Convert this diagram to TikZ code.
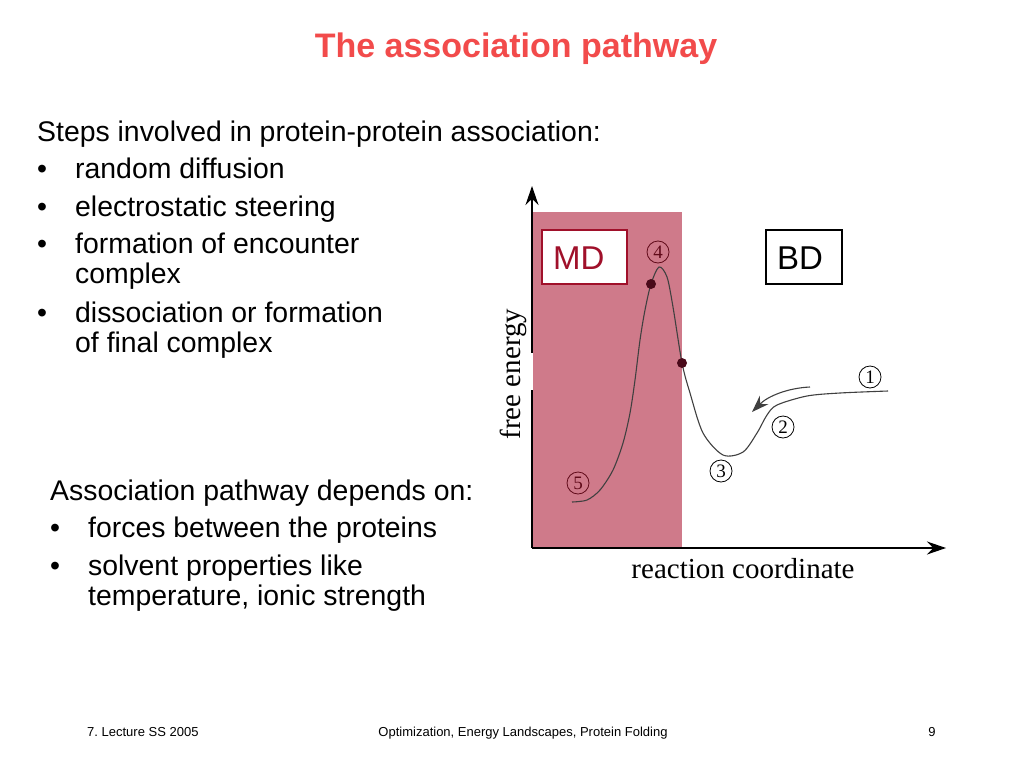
\documentclass[tikz,border=0pt]{standalone}
\usepackage{fontspec}
\setmainfont{Liberation Sans}
\newfontfamily\seriffont{Liberation Serif}
\usetikzlibrary{arrows.meta}
\definecolor{titlered}{HTML}{F24B4B}
\definecolor{mdpink}{HTML}{CF7A8A}
\definecolor{mdred}{HTML}{A0102A}
\definecolor{dotred}{HTML}{4A0A1A}
\definecolor{curvegray}{HTML}{404040}
\frenchspacing
\tikzset{
  txt/.style={anchor=base west, inner sep=0pt, font=\fontsize{28.4}{34}\selectfont},
  bul/.style={anchor=base west, inner sep=0pt, font=\fontsize{28.4}{34}\selectfont},
  foot/.style={anchor=base, inner sep=0pt, font=\fontsize{13}{16}\selectfont},
  circnum/.style={circle, draw=#1, text=#1, line width=0.8pt, inner sep=0pt, minimum size=22pt, font=\seriffont\fontsize{19}{19}\selectfont},
  circnum/.default=black,
  labbox/.style={draw=#1, fill=white, line width=1.8pt, inner sep=0pt},
  labtxt/.style={text=#1, anchor=base west, inner sep=0pt, font=\fontsize{33}{33}\selectfont},
  axisline/.style={line width=1.3pt, -{Stealth[length=19pt,width=13pt]}},
  dotmark/.style={circle, fill=dotred, inner sep=0pt, minimum size=10pt}
}
\begin{document}
\begin{tikzpicture}[x=1pt,y=-1pt]
\useasboundingbox (0,0) rectangle (1024,768);
\fill[white] (0,0) rectangle (1024,768);
% title
\node[anchor=base, inner sep=0pt, text=titlered, font=\bfseries\fontsize{34}{40}\selectfont] (title) at (516,58) {The association pathway};
% upper text block
\node[txt] (s0) at (37,141) {Steps involved in protein-protein association:};
\node[bul] (b1) at (37,178) {\textbullet};
\node[txt] (s1) at (75,178) {random diffusion};
\node[bul] (b2) at (37,216) {\textbullet};
\node[txt] (s2) at (75,216) {electrostatic steering};
\node[bul] (b3) at (37,253) {\textbullet};
\node[txt] (s3) at (75,253) {formation of encounter};
\node[txt] (s3b) at (75,283) {complex};
\node[bul] (b4) at (37,322) {\textbullet};
\node[txt] (s4) at (75,322) {dissociation or formation};
\node[txt] (s4b) at (75,352) {of final complex};
% lower text block
\node[txt] (t0) at (50,500) {Association pathway depends on:};
\node[bul] (c1) at (50,537) {\textbullet};
\node[txt] (t1) at (88,537) {forces between the proteins};
\node[bul] (c2) at (50,575) {\textbullet};
\node[txt] (t2) at (88,575) {solvent properties like};
\node[txt] (t2b) at (88,605) {temperature, ionic strength};
% graph
\fill[mdpink] (532,212) rectangle (682,548);
\coordinate (origin) at (532,548);
\coordinate (ytop) at (532,186);
\coordinate (xend) at (946,548);
\draw[axisline] (origin) -- (ytop);
\draw[axisline] (origin) -- (xend);
\draw[white, line width=1.5pt] (532,353) -- (532,390);
% energy curve
\draw[curvegray, line width=1.1pt] plot[smooth, tension=0.5] coordinates {
 (572,502) (587,500) (600,490) (613,470) (623,443) (630,413) (635,380) (640,340)
 (645,310) (651,284) (659,267) (667,277) (673,307) (682,363) (690,393) (703,433)
 (723,455) (743,452) (757,433) (767,415) (777,405) (807,396) (840,393) (888,391)};
\node[dotmark] (d1) at (651,284) {};
\node[dotmark] (d2) at (682,363) {};
% steering arrow
\coordinate (arrS) at (810,387);
\coordinate (arrE) at (752,412);
\draw[curvegray, line width=1.1pt, -{Stealth[length=17pt,width=12pt]}] (arrS) .. controls (788,388) and (768,396) .. (arrE);
% circled numbers
\node[circnum] (n1) at (870,377) {1};
\node[circnum] (n2) at (783,427) {2};
\node[circnum] (n3) at (721,471) {3};
\node[circnum=mdred!60!black] (n4) at (658,252) {4};
\node[circnum=mdred!60!black] (n5) at (578,483) {5};
% labels
\draw[labbox=mdred] (542,230) rectangle (627,284);
\node[labtxt=mdred] (md) at (553,269) {MD};
\draw[labbox=black] (766,230) rectangle (842,284);
\node[labtxt=black] (bd) at (777,269) {BD};
\node[anchor=base, inner sep=0pt, rotate=90, font=\seriffont\fontsize{29}{29}\selectfont] (fe) at (520,374) {free energy};
\node[anchor=base, inner sep=0pt, font=\seriffont\fontsize{29}{29}\selectfont] (rc) at (743,578) {reaction coordinate};
% footer
\node[foot, anchor=base west] (f1) at (87,736) {7. Lecture SS 2005};
\node[foot] (f2) at (523,736) {Optimization, Energy Landscapes, Protein Folding};
\node[foot] (f3) at (932,736) {9};
\end{tikzpicture}
\end{document}
